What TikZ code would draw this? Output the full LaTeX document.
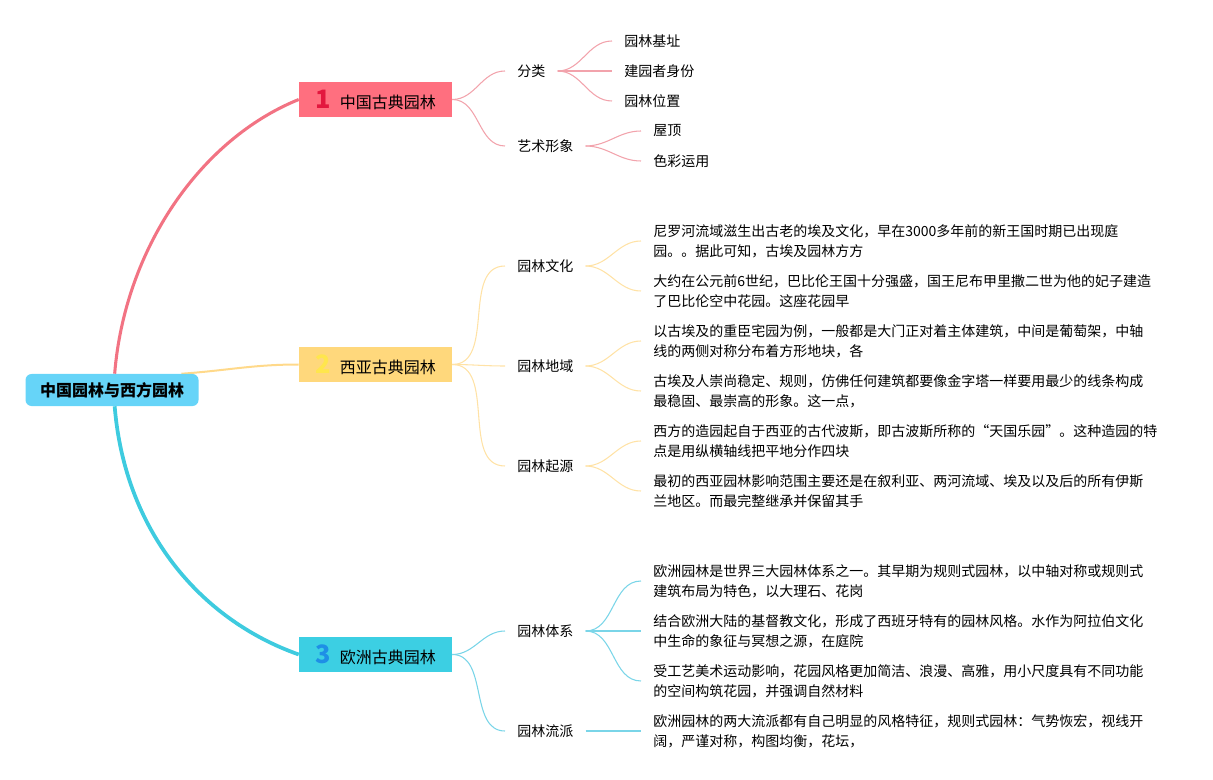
\documentclass[tikz,border=0pt]{standalone}
\usepackage{fontspec}
\newfontfamily\cjk{Noto Sans CJK SC}
\usetikzlibrary{backgrounds}

\definecolor{rootblue}{HTML}{66D4F8}
\definecolor{redbox}{HTML}{FF6F7F}
\definecolor{yellowbox}{HTML}{FFD87C}
\definecolor{cyanbox}{HTML}{3CCFE3}
\definecolor{rednum}{HTML}{E3173E}
\definecolor{yellownum}{HTML}{FFE64D}
\definecolor{bluenum}{HTML}{1E8FE6}
\definecolor{redline}{HTML}{F27383}
\definecolor{yellowline}{HTML}{FFD98A}
\definecolor{cyanline}{HTML}{3ECBDF}
\definecolor{redsub}{HTML}{F2A3AC}
\definecolor{yellowsub}{HTML}{FFE2A6}
\definecolor{cyansub}{HTML}{7AD5E8}

\newcommand{\bnum}[2]{\textcolor{#1}{\fontsize{19}{19}\selectfont\bfseries #2}\hspace{7pt}}

\begin{document}
\begin{tikzpicture}[x=0.75pt, y=-0.75pt, font=\cjk\fontsize{10.5}{15}\selectfont,
    root/.style={fill=rootblue, rounded corners=4.5pt, minimum width=129.75pt,
        minimum height=24pt, font=\cjk\bfseries\fontsize{12}{14}\selectfont},
    branch/.style={fill=#1, minimum width=114.75pt, minimum height=26.25pt,
        inner sep=0pt, font=\cjk\fontsize{12}{14}\selectfont},
    topic/.style={anchor=west, inner xsep=9pt},
    leaf/.style={anchor=west, inner xsep=9pt, align=left},
    mainlink/.style={draw=#1, line width=2.3pt},
    sublink/.style={draw=#1, line width=0.8pt}]

    \useasboundingbox (0,0) rectangle (1213,780);

    %%% Root
    \node (root) [root] at (112,390) {中国园林与西方园林};

    %%% Main branches
    \node (b1) [branch=redbox]    at (375.5,99.5)  {\bnum{rednum}{1}中国古典园林};
    \node (b2) [branch=yellowbox] at (375.5,364.5) {\bnum{yellownum}{2}西亚古典园林};
    \node (b3) [branch=cyanbox]   at (375.5,654.5) {\bnum{bluenum}{3}欧洲古典园林};

    %%% Topics
    \node (fl) [topic] at (505,71)  {分类};
    \node (ys) [topic] at (505,146) {艺术形象};
    \node (wh) [topic] at (505,266) {园林文化};
    \node (dy) [topic] at (505,366) {园林地域};
    \node (qy) [topic] at (505,466) {园林起源};
    \node (tx) [topic] at (505,631) {园林体系};
    \node (lp) [topic] at (505,731) {园林流派};

    %%% Leaves of branch 1
    \node (jz) [leaf] at (612,41)  {园林基址};
    \node (sf) [leaf] at (612,71)  {建园者身份};
    \node (wz) [leaf] at (612,101) {园林位置};
    \node (wd) [leaf] at (641,131) {屋顶};
    \node (sc) [leaf] at (641,161) {色彩运用};

    %%% Leaves of branch 2
    \node (wh1) [leaf] at (641,241) {尼罗河流域滋生出古老的埃及文化，早在3000多年前的新王国时期已出现庭\\园。。据此可知，古埃及园林方方};
    \node (wh2) [leaf] at (641,291) {大约在公元前6世纪，巴比伦王国十分强盛，国王尼布甲里撒二世为他的妃子建造\\了巴比伦空中花园。这座花园早};
    \node (dy1) [leaf] at (641,341) {以古埃及的重臣宅园为例，一般都是大门正对着主体建筑，中间是葡萄架，中轴\\线的两侧对称分布着方形地块，各};
    \node (dy2) [leaf] at (641,391) {古埃及人崇尚稳定、规则，仿佛任何建筑都要像金字塔一样要用最少的线条构成\\最稳固、最崇高的形象。这一点，};
    \node (qy1) [leaf] at (641,441) {西方的造园起自于西亚的古代波斯，即古波斯所称的“天国乐园”。这种造园的特\\点是用纵横轴线把平地分作四块};
    \node (qy2) [leaf] at (641,491) {最初的西亚园林影响范围主要还是在叙利亚、两河流域、埃及以及后的所有伊斯\\兰地区。而最完整继承并保留其手};

    %%% Leaves of branch 3
    \node (tx1) [leaf] at (641,581) {欧洲园林是世界三大园林体系之一。其早期为规则式园林，以中轴对称或规则式\\建筑布局为特色，以大理石、花岗};
    \node (tx2) [leaf] at (641,631) {结合欧洲大陆的基督教文化，形成了西班牙特有的园林风格。水作为阿拉伯文化\\中生命的象征与冥想之源，在庭院};
    \node (tx3) [leaf] at (641,681) {受工艺美术运动影响，花园风格更加简洁、浪漫、高雅，用小尺度具有不同功能\\的空间构筑花园，并强调自然材料};
    \node (lp1) [leaf] at (641,731) {欧洲园林的两大流派都有自己明显的风格特征，规则式园林：气势恢宏，视线开\\阔，严谨对称，构图均衡，花坛，};

    %%% Connectors
    \begin{scope}[on background layer]
        \draw[mainlink=redline] ([xshift=2pt]root.north) .. controls +(10,-124) and +(-99,40) .. (b1.west);
        \draw[mainlink=yellowline, line width=1.5pt] ([xshift=-13pt]root.north east) to[out=4, in=180] (b2.west);
        \draw[mainlink=cyanline, line width=2.8pt] ([xshift=2pt]root.south) .. controls +(10,124) and +(-99,-35) .. (b3.west);

        \foreach \t in {fl,ys} \draw[sublink=redsub] (b1.east) to[out=0, in=180] (\t.west);
        \foreach \t in {jz,sf,wz} \draw[sublink=redsub] (fl.east) to[out=0, in=180] (\t.west);
        \foreach \t in {wd,sc} \draw[sublink=redsub] (ys.east) to[out=0, in=180] (\t.west);

        \foreach \t in {wh,dy,qy} \draw[sublink=yellowsub] (b2.east) to[out=0, in=180] (\t.west);
        \foreach \t in {wh1,wh2} \draw[sublink=yellowsub] (wh.east) to[out=0, in=180] (\t.west);
        \foreach \t in {dy1,dy2} \draw[sublink=yellowsub] (dy.east) to[out=0, in=180] (\t.west);
        \foreach \t in {qy1,qy2} \draw[sublink=yellowsub] (qy.east) to[out=0, in=180] (\t.west);

        \foreach \t in {tx,lp} \draw[sublink=cyansub] (b3.east) to[out=0, in=180] (\t.west);
        \foreach \t in {tx1,tx2,tx3} \draw[sublink=cyansub] (tx.east) to[out=0, in=180] (\t.west);
        \draw[sublink=cyansub] (lp.east) to[out=0, in=180] (lp1.west);
    \end{scope}

\end{tikzpicture}
\end{document}
